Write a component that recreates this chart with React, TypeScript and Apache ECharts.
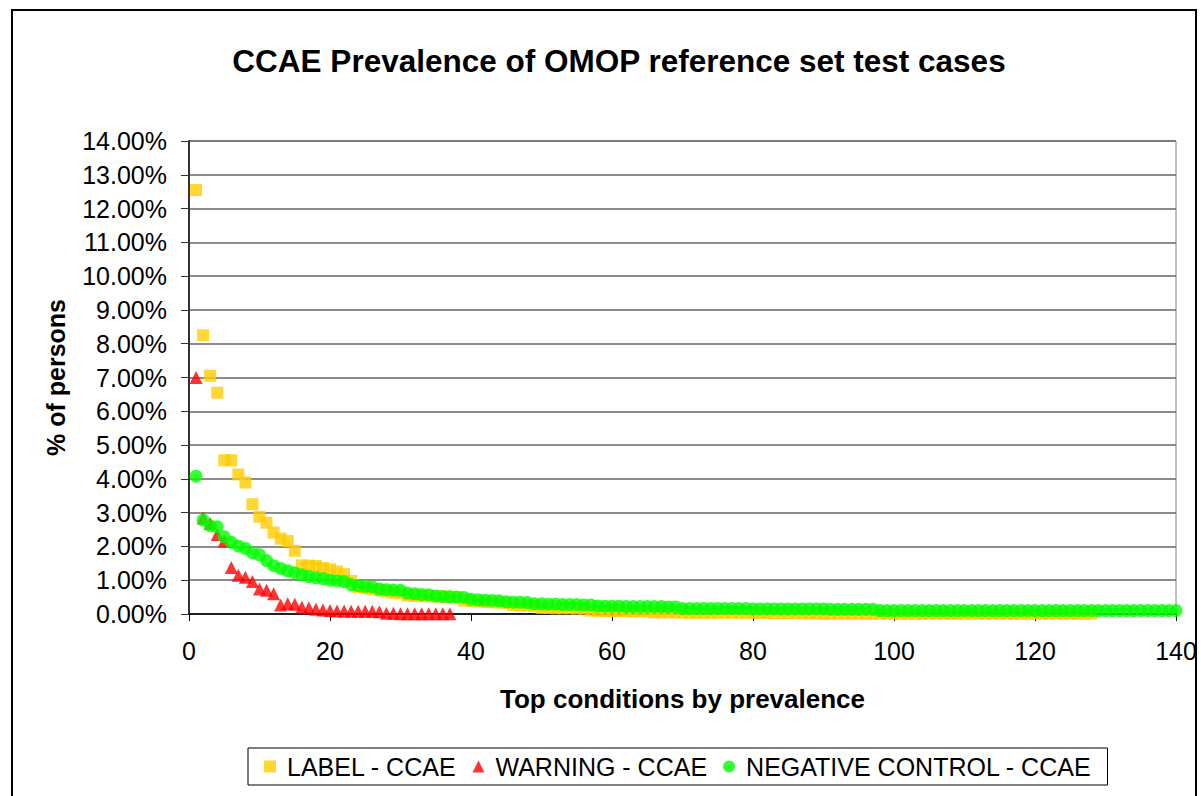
import React, { useEffect, useRef } from "react";
import * as echarts from "echarts";

const FONT = '"Liberation Sans", Arial, Helvetica, sans-serif';

const TITLE = "CCAE Prevalence of OMOP reference set test cases";
const X_NAME = "Top conditions by prevalence";
const Y_NAME = "% of persons";
const SERIES_NAMES = ["LABEL - CCAE", "WARNING - CCAE", "NEGATIVE CONTROL - CCAE"];
const X_TICKS = [0, 20, 40, 60, 80, 100, 120, 140];
const Y_TICKS = [0, 1, 2, 3, 4, 5, 6, 7, 8, 9, 10, 11, 12, 13, 14];

// % of persons, condition rank 1..N
const LABEL = [
  12.55, 8.25, 7.05, 6.55, 4.55, 4.55, 4.13, 3.89, 3.25, 2.88,
  2.70, 2.41, 2.23, 2.16, 1.87, 1.44, 1.43, 1.42, 1.36, 1.32,
  1.26, 1.18, 0.98, 0.80, 0.77, 0.73, 0.71, 0.66, 0.63, 0.61,
  0.55, 0.54, 0.53, 0.53, 0.52, 0.52, 0.51, 0.50, 0.40, 0.38,
  0.37, 0.36, 0.35, 0.34, 0.33, 0.27, 0.26, 0.25, 0.24, 0.18,
  0.18, 0.17, 0.17, 0.17, 0.16, 0.16, 0.10, 0.10, 0.09, 0.09,
  0.09, 0.09, 0.08, 0.08, 0.08, 0.05, 0.05, 0.05, 0.05, 0.04,
  0.04, 0.04, 0.04, 0.04, 0.04, 0.04, 0.04, 0.04, 0.04, 0.04,
  0.04, 0.03, 0.03, 0.03, 0.03, 0.03, 0.02, 0.02, 0.02, 0.01,
  0.01, 0.01, 0.01, 0.01, 0.01, 0.01, 0.01, 0.01, 0.01, 0.01,
  0.01, 0.01, 0.01, 0.01, 0.01, 0.01, 0.01, 0.01, 0.01, 0.01,
  0.01, 0.01, 0.01, 0.01, 0.01, 0.01, 0.01, 0.01, 0.01, 0.01,
  0.01, 0.01, 0.01, 0.01, 0.01, 0.01, 0.01, 0.01,
];

const WARNING = [
  7.00, 2.84, 2.68, 2.35, 2.16, 1.38, 1.15, 1.09, 0.96, 0.74,
  0.70, 0.60, 0.27, 0.30, 0.29, 0.20, 0.18, 0.14, 0.12, 0.10,
  0.09, 0.09, 0.08, 0.08, 0.08, 0.08, 0.07, 0.02, 0.02, 0.01,
  0.01, 0.01, 0.01, 0.01, 0.01, 0.01, 0.01,
];

const NEGATIVE = [
  4.08, 2.78, 2.61, 2.58, 2.29, 2.12, 2.01, 1.94, 1.81, 1.75,
  1.58, 1.43, 1.35, 1.28, 1.22, 1.16, 1.11, 1.07, 1.05, 1.00,
  0.98, 0.96, 0.87, 0.84, 0.82, 0.80, 0.74, 0.72, 0.71, 0.70,
  0.62, 0.60, 0.58, 0.57, 0.53, 0.52, 0.51, 0.50, 0.49, 0.44,
  0.42, 0.41, 0.40, 0.39, 0.36, 0.35, 0.35, 0.34, 0.30, 0.30,
  0.29, 0.29, 0.28, 0.28, 0.28, 0.27, 0.27, 0.24, 0.23, 0.23,
  0.23, 0.22, 0.22, 0.22, 0.22, 0.22, 0.22, 0.21, 0.21, 0.16,
  0.16, 0.16, 0.16, 0.16, 0.16, 0.16, 0.16, 0.16, 0.16, 0.15,
  0.15, 0.15, 0.15, 0.15, 0.15, 0.15, 0.15, 0.15, 0.15, 0.15,
  0.14, 0.14, 0.14, 0.14, 0.14, 0.14, 0.14, 0.10, 0.10, 0.10,
  0.10, 0.10, 0.10, 0.10, 0.10, 0.10, 0.10, 0.10, 0.10, 0.10,
  0.10, 0.10, 0.10, 0.10, 0.10, 0.10, 0.10, 0.10, 0.10, 0.10,
  0.10, 0.10, 0.10, 0.10, 0.10, 0.10, 0.10, 0.10, 0.10, 0.10,
  0.10, 0.10, 0.10, 0.10, 0.10, 0.10, 0.10, 0.10, 0.10, 0.10,
];

const COLORS = ["#FFCC00", "#FF0000", "#00FF00"];

const toPoints = (arr: number[]) => arr.map((v, i) => [i + 1, v]);

export default function App() {
  const ref = useRef<HTMLDivElement>(null);

  useEffect(() => {
    if (!ref.current) return;
    const chart = echarts.init(ref.current, undefined, { renderer: "svg" });
    const option: any = {
      animation: false,
      textStyle: { fontFamily: FONT, color: "#000" },
      title: {
        text: TITLE,
        left: 614,
        top: 40,
        textAlign: "center",
        textStyle: { fontFamily: FONT, fontSize: 31.5, fontWeight: "bold", color: "#000" },
      },
      graphic: [
        {
          type: "rect",
          silent: true,
          shape: { x: 12, y: 10, width: 1184, height: 800 },
          style: { fill: "none", stroke: "#000", lineWidth: 2 },
          z: -10,
        },
      ],
      grid: {
        left: 189,
        right: 25,
        top: 141,
        bottom: 182,
        show: true,
        borderColor: "#808080",
        borderWidth: 1,
        backgroundColor: "transparent",
      },
      legend: {
        left: 248,
        top: 748,
        orient: "horizontal",
        itemWidth: 12,
        itemHeight: 12,
        itemGap: 16,
        padding: [6, 16],
        borderColor: "#000",
        borderWidth: 1,
        textStyle: { fontFamily: FONT, fontSize: 25, color: "#000", padding: [0, 0, 0, 6] },
        data: [
          { name: SERIES_NAMES[0], icon: "rect" },
          { name: SERIES_NAMES[1], icon: "triangle" },
          { name: SERIES_NAMES[2], icon: "circle" },
        ],
      },
      xAxis: {
        type: "value",
        min: X_TICKS[0],
        max: X_TICKS[X_TICKS.length - 1],
        interval: X_TICKS[1] - X_TICKS[0],
        name: X_NAME,
        nameLocation: "middle",
        nameGap: 72,
        nameTextStyle: { fontFamily: FONT, fontSize: 26, fontWeight: "bold", color: "#000" },
        axisLine: { show: true, onZero: false, lineStyle: { color: "#000", width: 1.5 } },
        axisTick: { show: true, length: 7, lineStyle: { color: "#000", width: 1 } },
        axisLabel: { fontFamily: FONT, fontSize: 25, color: "#000", margin: 24 },
        splitLine: { show: false },
      },
      yAxis: {
        type: "value",
        min: Y_TICKS[0],
        max: Y_TICKS[Y_TICKS.length - 1],
        interval: Y_TICKS[1] - Y_TICKS[0],
        name: Y_NAME,
        nameLocation: "middle",
        nameGap: 121,
        nameRotate: 90,
        nameTextStyle: { fontFamily: FONT, fontSize: 25, fontWeight: "bold", color: "#000" },
        axisLine: { show: true, lineStyle: { color: "#333", width: 2 } },
        axisTick: { show: true, length: 8, lineStyle: { color: "#333", width: 1 } },
        axisLabel: {
          fontFamily: FONT,
          fontSize: 25,
          color: "#000",
          margin: 22,
          formatter: (v: number) => v.toFixed(2) + "%",
        },
        splitLine: { show: true, lineStyle: { color: "#666", width: 1.5 } },
      },
      series: [
        {
          name: SERIES_NAMES[0],
          type: "scatter",
          symbol: "rect",
          symbolSize: 12,
          itemStyle: { color: COLORS[0] },
          data: toPoints(LABEL),
          clip: false,
        },
        {
          name: SERIES_NAMES[1],
          type: "scatter",
          symbol: "triangle",
          symbolSize: [13, 13],
          itemStyle: { color: COLORS[1] },
          data: toPoints(WARNING),
          clip: false,
        },
        {
          name: SERIES_NAMES[2],
          type: "scatter",
          symbol: "circle",
          symbolSize: 13,
          itemStyle: { color: COLORS[2] },
          data: toPoints(NEGATIVE),
          clip: false,
        },
      ],
    };
    chart.setOption(option);
    return () => chart.dispose();
  }, []);

  return (
    <div
      ref={ref}
      style={{ position: "fixed", left: 0, top: 0, width: 1201, height: 796, background: "#fff" }}
    />
  );
}
